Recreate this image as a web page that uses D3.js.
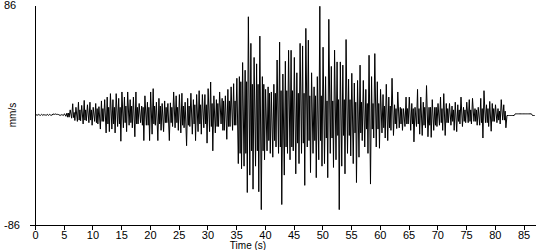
<!DOCTYPE html>
<html>
<head>
<meta charset="utf-8">
<script src="https://cdn.jsdelivr.net/npm/d3@7"></script>
<style>
    body { margin: 0; background: #fff; }
    svg { display: block; font-family: "Liberation Sans", Arial, sans-serif; font-size: 11px; }
    .axis path, .axis line { stroke: #000; shape-rendering: crispEdges; }
    .axis text { fill: #000; font-size: 11px; }
</style>
</head>
<body>
<div id="chart"></div>
<script>

// trace sampled in 0.5 s bins: upper and lower peak of each bin (mm/s), from t = 0
var binWidth = 0.5;

var peakHigh = [
    0.5, 0.5, 0.5, 0.5, 0.5, 0.5, 0.8, 0.8, 0.3, 0.3,
    1, 1.5, 4, 8.8, 6, 10, 7.5, 11.4, 8, 10,
    6, 9, 6.5, 11, 12, 14, 16.7, 12, 16.7, 13,
    18, 14, 18, 12, 14, 18, 9, 7, 15, 10,
    18, 20.6, 10, 13, 9, 11, 9, 9.5, 18, 15,
    16, 17, 10, 13, 17, 12, 16, 19, 16, 16,
    20.6, 25.8, 15, 12, 18, 13, 15, 20, 22, 24.5,
    28.7, 30, 41, 35, 76.8, 56, 45, 40, 61.7, 30,
    20, 22, 18, 24, 43, 57, 32, 42, 50.6, 50.6,
    45, 33, 56, 54, 67.7, 58.5, 33, 22, 30, 85,
    53, 30, 74.8, 38, 50.7, 41.5, 41.5, 39, 59, 28,
    32.6, 25, 27, 39, 27, 20, 46.7, 30, 48, 26,
    20, 16, 24, 14, 28.7, 8, 18, 6, 5, 14,
    14, 9, 6, 20, 14, 10, 23, 6, 12, 6,
    9, 14, 16.7, 9, 9, 7, 10, 8, 14, 6,
    10, 12, 13, 5, 6, 13, 19, 8, 10.6, 9,
    8, 5, 12, 8,
    -0.4, -0.4, -0.4, 0.9, 0.9, 0.9, 0.9, 0.9, 0.9, -0.4
];

var peakLow = [
    -0.3, -0.3, -0.3, -0.3, -0.3, -0.3, 0.5, 0.5, -0.4, -0.4,
    -1, -1.7, -2.5, -4.3, -5, -4.5, -7, -4.5, -6, -8,
    -5, -7, -11, -5, -14, -13, -11, -14, -9, -20.5,
    -10, -13, -8, -10, -17, -7, -6, -20, -8, -20,
    -15, -8, -20, -12, -13, -6, -20, -9, -10, -12,
    -14, -10, -24, -9, -15, -20, -13, -15, -10, -22,
    -13, -28, -14, -9, -7, -12, -19, -9, -12, -8,
    -38, -42, -40, -60.6, -47, -58, -40, -60, -74, -35,
    -28, -30, -33, -25, -30, -70, -47, -30, -35, -28,
    -46, -38, -30, -55, -25, -45, -30, -49, -35, -40,
    -38, -49, -30, -41, -35, -74, -40, -46, -30, -32,
    -38, -52.8, -33, -20, -25, -30, -54, -18, -25, -26,
    -14, -18, -20, -12, -16, -10.6, -10, -12, -9, -7,
    -12, -21, -9, -15, -16, -10, -17, -17.5, -12, -9,
    -8, -12, -16, -6, -8, -12, -13, -7, -9, -6,
    -6, -7, -5, -8, -8, -18, -6, -9, -12.7, -5,
    -6, -7, -4, -10,
    -0.4, -0.4, -0.4, 0.9, 0.9, 0.9, 0.9, 0.9, 0.9, -0.4
];

// extent of the solid dense band, per 2.5 s window (mm/s)
var bandWidth = 2.5;
var bandHigh = [0, 0, 2, 4, 5, 6, 7, 6, 7, 6, 7, 8, 9, 11, 26, 24, 17, 19,
                17, 15, 11, 12, 10, 9, 7, 5, 5, 6, 5, 4, 4, 5, 3, 0, 0];
var bandLow  = [0, 0, -2, -4, -6, -7, -6, -8, -7, -6, -8, -7, -9, -12, -30, -28, -20, -25,
                -22, -20, -18, -16, -14, -11, -10, -7, -7, -8, -6, -5, -5, -6, -4, 0, 0];

var timeTicks = [0, 5, 10, 15, 20, 25, 30, 35, 40, 45, 50, 55, 60, 65, 70, 75, 80, 85];
var ampTicks = [86, -86];


Seismogram = function(_parentElement, _high, _low){
    this.parentElement = _parentElement;
    this.high = _high;
    this.low = _low;
    this.displayData = [];

    this.initVis();
}

Seismogram.prototype.initVis = function() {
    var vis = this;

    vis.margin = {top: 5, right: 15, bottom: 25, left: 35};

    vis.width = 550 - vis.margin.left - vis.margin.right;
    vis.height = 250 - vis.margin.top - vis.margin.bottom;

    vis.svg = d3.select("#" + vis.parentElement).append("svg")
        .attr("width", vis.width + vis.margin.left + vis.margin.right)
        .attr("height", vis.height + vis.margin.top + vis.margin.bottom)
        .append("g")
        .attr("transform", "translate(" + vis.margin.left + "," + vis.margin.top + ")");

    vis.x = d3.scaleLinear()
        .range([0, vis.width])
        .domain([0, 87]);

    vis.y = d3.scaleLinear()
        .range([vis.height, 0])
        .domain([-86, 86]);

    vis.xAxis = d3.axisBottom()
        .scale(vis.x)
        .tickValues(timeTicks)
        .tickSize(5)
        .tickSizeOuter(0)
        .tickPadding(1);

    vis.yAxis = d3.axisLeft()
        .scale(vis.y)
        .tickValues(ampTicks)
        .tickFormat(function(d) { return String(d); })
        .tickSize(0)
        .tickSizeOuter(0);

    vis.svg.append("g")
        .attr("class", "x-axis axis")
        .attr("transform", "translate(0," + vis.height + ")");

    vis.svg.append("g")
        .attr("class", "y-axis axis");

    // x axis line pokes out a little to the left of the y axis
    vis.svg.append("line")
        .attr("x1", -5).attr("x2", 0)
        .attr("y1", vis.height).attr("y2", vis.height)
        .attr("stroke", "#000")
        .style("shape-rendering", "crispEdges");

    vis.svg.append("text")
        .attr("x", 213)
        .attr("y", vis.height + 24)
        .style("text-anchor", "middle")
        .style("font-size", "10px")
        .text("Time (s)");

    vis.svg.append("text")
        .attr("transform", "rotate(-90)")
        .attr("x", 0 - vis.y(0))
        .attr("y", -19)
        .style("text-anchor", "middle")
        .style("font-size", "10px")
        .text("mm/s");

    vis.wrangleData();
};

Seismogram.prototype.wrangleData = function(){
    var vis = this;

    // every bin: upper then lower peak; odd bins also swing through the dense band
    vis.displayData = [];
    vis.high.forEach(function(h, i){
        var t0 = i * binWidth;
        var lo = vis.low[i];
        var w = Math.floor(t0 / bandWidth);
        if (i % 2 === 1) {
            var bHi = Math.max(lo, Math.min(h, bandHigh[w]));
            var bLo = Math.max(lo, Math.min(h, bandLow[w]));
            vis.displayData.push({time: t0 + binWidth * 0.125, value: h});
            vis.displayData.push({time: t0 + binWidth * 0.375, value: bLo});
            vis.displayData.push({time: t0 + binWidth * 0.625, value: bHi});
            vis.displayData.push({time: t0 + binWidth * 0.875, value: lo});
        } else {
            vis.displayData.push({time: t0 + binWidth * 0.25, value: h});
            vis.displayData.push({time: t0 + binWidth * 0.75, value: lo});
        }
    });

    vis.updateVis();
}

Seismogram.prototype.updateVis = function(){
    var vis = this;

    var line = d3.line()
        .x(function(d) { return vis.x(d.time); })
        .y(function(d) { return vis.y(d.value); });

    vis.svg.append("path")
        .datum(vis.displayData)
        .attr("fill", "none")
        .attr("stroke", "#000")
        .attr("stroke-width", 1)
        .attr("d", line);

    vis.svg.select(".x-axis").call(vis.xAxis);
    vis.svg.select(".y-axis").call(vis.yAxis);

    vis.svg.select(".y-axis").selectAll(".tick text")
        .style("text-anchor", "start")
        .attr("x", -31)
        .attr("dy", "0.35em");
}

var seismogram = new Seismogram("chart", peakHigh, peakLow);

</script>
</body>
</html>
